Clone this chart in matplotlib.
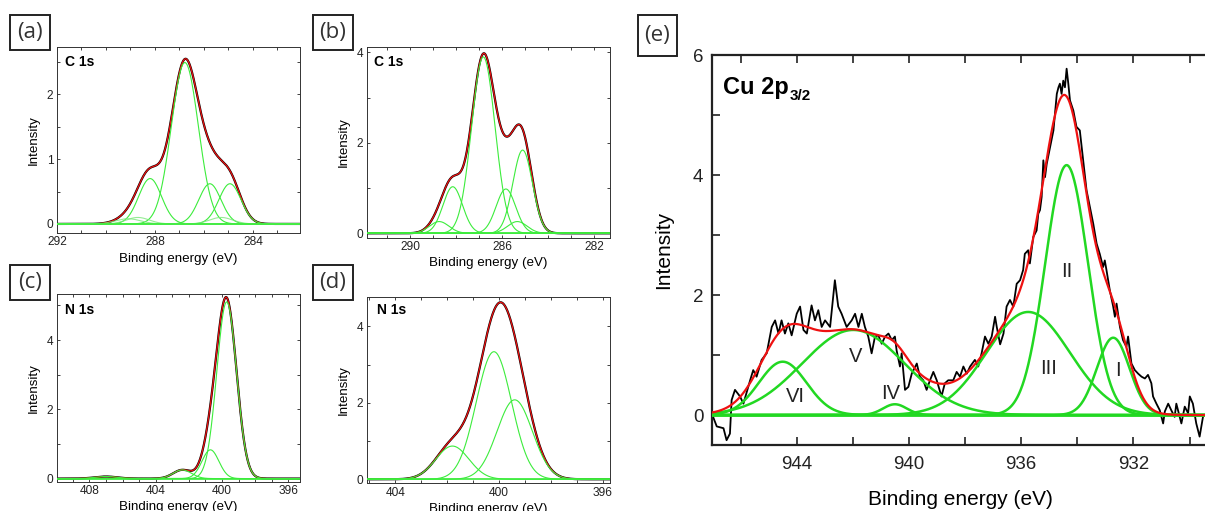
import numpy as np
import matplotlib
matplotlib.use('Agg')
import matplotlib.pyplot as plt
from matplotlib.ticker import MultipleLocator, FuncFormatter
from matplotlib.patches import Rectangle

plt.rcParams['font.family'] = ['Liberation Sans', 'DejaVu Sans']

W, H = 1205, 511

# ---------------- data ----------------
# Fitted components: centre (eV), height, FWHM (eV)
a_centers = [286.78, 288.20, 285.76, 284.94, 289.10, 288.70, 285.30]
a_heights = [2.49, 0.70, 0.62, 0.62, 0.08, 0.10, 0.10]
a_fwhm = [1.30, 1.10, 1.06, 1.06, 1.20, 1.10, 1.10]
a_faint = [False, False, False, False, True, True, True]

b_centers = [286.81, 288.14, 285.83, 285.10, 288.73, 285.33]
b_heights = [3.90, 1.03, 0.98, 1.84, 0.26, 0.26]
b_fwhm = [1.20, 1.00, 1.00, 1.00, 1.00, 1.00]

c_centers = [399.72, 400.70, 402.40, 407.00]
c_heights = [5.10, 0.83, 0.25, 0.06]
c_fwhm = [1.40, 1.20, 1.30, 1.60]

d_centers = [400.20, 399.40, 401.80]
d_heights = [3.34, 2.08, 0.87]
d_fwhm = [1.60, 1.60, 1.50]

e_centers = [932.72, 934.38, 935.75, 940.50, 941.98, 944.50]
e_heights = [1.29, 4.17, 1.72, 0.18, 1.42, 0.89]
e_fwhm = [1.37, 1.80, 3.50, 1.00, 4.30, 2.00]
e_names = ['I', 'II', 'III', 'IV', 'V', 'VI']

# Cu 2p3/2 measured spectrum
e_energy = [947.03, 946.85, 946.61, 946.50, 946.38, 946.32, 946.20, 946.02, 945.90, 945.66,
            945.55, 945.43, 945.25, 945.07, 944.89, 944.77, 944.65, 944.54, 944.42, 944.30,
            944.18, 944.00, 943.88, 943.76, 943.64, 943.47, 943.35, 943.23, 943.11, 942.99,
            942.81, 942.64, 942.52, 942.40, 942.22, 942.04, 941.92, 941.80, 941.68, 941.57,
            941.45, 941.33, 941.21, 941.09, 940.97, 940.85, 940.73, 940.61, 940.50, 940.44,
            940.32, 940.26, 940.14, 940.02, 939.90, 939.72, 939.61, 939.49, 939.37, 939.25,
            939.13, 939.01, 938.84, 938.72, 938.60, 938.42, 938.30, 938.18, 938.06, 937.94,
            937.82, 937.65, 937.53, 937.41, 937.29, 937.17, 937.05, 936.93, 936.87, 936.75,
            936.63, 936.52, 936.40, 936.28, 936.16, 936.04, 935.93, 935.87, 935.75, 935.69,
            935.57, 935.45, 935.39, 935.33, 935.27, 935.21, 935.15, 935.09, 934.97, 934.85,
            934.73, 934.67, 934.62, 934.56, 934.50, 934.44, 934.38, 934.32, 934.26, 934.14,
            934.03, 933.91, 933.79, 933.67, 933.55, 933.43, 933.31, 933.20, 933.08, 933.02,
            932.96, 932.84, 932.72, 932.66, 932.60, 932.48, 932.37, 932.25, 932.19, 932.07,
            931.95, 931.83, 931.71, 931.59, 931.48, 931.36, 931.30, 931.18, 931.06, 930.94,
            930.88, 930.76, 930.65, 930.53, 930.47, 930.35, 930.29, 930.17, 930.05, 929.99,
            929.88, 929.76, 929.64, 929.52]
e_intensity = [0.03, -0.19, -0.22, -0.42, -0.31, 0.25, 0.42, 0.31, 0.19, 0.58,
               0.75, 0.64, 0.92, 1.03, 1.47, 1.58, 1.36, 1.58, 1.36, 1.53,
               1.33, 1.69, 1.81, 1.42, 1.36, 1.83, 1.58, 1.75, 1.47, 1.58,
               1.47, 2.25, 1.81, 1.69, 1.47, 1.58, 1.69, 1.47, 1.69, 1.47,
               1.31, 1.03, 1.31, 1.33, 1.19, 1.31, 1.36, 1.25, 1.31, 1.08,
               0.81, 1.03, 0.42, 0.47, 0.69, 0.86, 0.64, 0.58, 0.42, 0.58,
               0.72, 0.58, 0.31, 0.53, 0.58, 0.58, 0.72, 0.64, 0.81, 0.69,
               0.81, 0.92, 0.81, 1.03, 1.31, 1.19, 1.31, 1.64, 1.47, 1.18,
               1.36, 1.81, 1.92, 1.81, 2.19, 2.25, 2.42, 2.69, 2.75, 2.53,
               2.97, 3.08, 3.36, 3.42, 3.64, 4.25, 3.97, 4.19, 4.47, 4.75,
               5.36, 5.47, 5.53, 5.36, 5.58, 5.47, 5.78, 5.53, 5.25, 5.08,
               4.81, 4.75, 4.25, 3.75, 3.47, 3.19, 2.86, 2.69, 2.47, 2.58,
               2.42, 2.08, 1.81, 1.64, 1.86, 1.47, 1.25, 1.14, 1.31, 0.86,
               0.75, 0.69, 0.64, 0.61, 0.67, 0.53, 0.31, 0.19, 0.08, -0.14,
               0.06, 0.19, 0.08, -0.03, 0.19, -0.03, -0.14, 0.14, 0.03, 0.31,
               0.19, -0.14, -0.36, -0.03]

# tick labels
a_xlabels, a_ylabels = [292, 288, 284], [0, 1, 2]
b_xlabels, b_ylabels = [290, 286, 282], [0, 2, 4]
c_xlabels, c_ylabels = [408, 404, 400, 396], [0, 2, 4]
d_xlabels, d_ylabels = [404, 400, 396], [0, 2, 4]
e_xlabels, e_ylabels = [944, 940, 936, 932], [0, 2, 4, 6]

# ---------------- helpers ----------------
GREEN_S = '#3cec3c'
GREEN_E = '#22d822'
RED = '#ee1111'


def gauss(x, c, h, w):
    return h * np.exp(-4.0 * np.log(2.0) * (x - c) ** 2 / w ** 2)


def px_axes(fig, l, t, r, b):
    return fig.add_axes([l / W, 1 - b / H, (r - l) / W, (b - t) / H])


def only(labels):
    def f(v, p):
        for lab in labels:
            if abs(v - lab) < 1e-6:
                return f'{lab:g}'
        return ''
    return FuncFormatter(f)


def box_label(fig, text, l, t, r, b, size=16):
    fig.add_artist(Rectangle((l / W, 1 - b / H), (r - l) / W, (b - t) / H,
                             transform=fig.transFigure, fill=False,
                             ec='#222222', lw=1.4))
    fig.text((l + r) / 2 / W, 1 - (t + b) / 2 / H, text, ha='center', va='center',
             fontsize=size, family=['Open Sans', 'DejaVu Sans'], color='#333333')


def small_panel(fig, rect, xlim, ylim, centers, heights, fwhm, xlabels, ylabels,
                ystep, title, faint=None, title_xy=(0.033, 0.92)):
    ax = px_axes(fig, *rect)
    x = np.linspace(xlim[0], xlim[1], 800)
    total = np.zeros_like(x)
    for c, h, w in zip(centers, heights, fwhm):
        total += gauss(x, c, h, w)
    ax.plot(x, total, color='black', lw=1.6, zorder=2)
    ax.plot(x, total, color=RED, lw=0.9, zorder=3)
    for i, (c, h, w) in enumerate(zip(centers, heights, fwhm)):
        col = GREEN_S
        alpha = 1.0
        if faint is not None and faint[i]:
            col = '#7be87b'
            alpha = 0.8
        ax.plot(x, gauss(x, c, h, w), color=col, lw=0.8, alpha=alpha, zorder=4)
    ax.axhline(0, color=GREEN_S, lw=1.2, zorder=4)
    ax.set_xlim(*xlim)
    ax.set_ylim(*ylim)
    ax.xaxis.set_major_locator(MultipleLocator(1))
    ax.xaxis.set_major_formatter(only(xlabels))
    ax.yaxis.set_major_locator(MultipleLocator(ystep))
    ax.yaxis.set_major_formatter(only(ylabels))
    ax.tick_params(direction='in', top=True, right=True, length=2.5, width=0.6,
                   labelsize=8.6, pad=2.5, colors='#222222')
    for s in ax.spines.values():
        s.set_linewidth(0.7)
        s.set_color('#333333')
    ax.set_xlabel('Binding energy (eV)', fontsize=9.6, labelpad=3)
    ax.set_ylabel('Intensity', fontsize=9.6, labelpad=5)
    ax.text(title_xy[0], title_xy[1], title, transform=ax.transAxes, fontsize=10,
            fontweight='bold', ha='left', va='center')
    return ax


fig = plt.figure(figsize=(W / 100, H / 100), dpi=100)

small_panel(fig, (57, 47, 300, 233), (292.0, 282.08), (-0.14, 2.73),
            a_centers, a_heights, a_fwhm, a_xlabels, a_ylabels, 0.5, 'C 1s',
            faint=a_faint, title_xy=(0.033, 0.92))
small_panel(fig, (367, 47, 610, 237.7), (291.87, 281.3), (-0.097, 4.12),
            b_centers, b_heights, b_fwhm, b_xlabels, b_ylabels, 1, 'C 1s',
            title_xy=(0.029, 0.92))
small_panel(fig, (57, 294.3, 300, 481.7), (409.95, 395.3), (-0.09, 5.32),
            c_centers, c_heights, c_fwhm, c_xlabels, c_ylabels, 1, 'N 1s',
            title_xy=(0.033, 0.916))
small_panel(fig, (366.7, 296.7, 610, 483.3), (405.1, 395.73), (-0.105, 4.78),
            d_centers, d_heights, d_fwhm, d_xlabels, d_ylabels, 1, 'N 1s',
            title_xy=(0.042, 0.93))

# ---------------- panel (e) ----------------
axe = px_axes(fig, 711.7, 55.5, 1210, 445)
xe = np.linspace(947.03, 929.27, 1000)
tot = np.zeros_like(xe)
for c, h, w in zip(e_centers, e_heights, e_fwhm):
    tot += gauss(xe, c, h, w)
axe.plot(e_energy, e_intensity, color='black', lw=1.3, zorder=2)
for c, h, w in zip(e_centers, e_heights, e_fwhm):
    axe.plot(xe, gauss(xe, c, h, w), color=GREEN_E, lw=1.8, zorder=3)
axe.axhline(0, color=GREEN_E, lw=1.8, zorder=3)
axe.plot(xe, tot, color=RED, lw=1.6, zorder=4)

e_label_x = [932.56, 934.39, 935.04, 940.64, 941.90, 944.06]
e_label_y = [0.75, 2.40, 0.78, 0.36, 0.98, 0.31]
for name, lx, ly in zip(e_names, e_label_x, e_label_y):
    axe.text(lx, ly, name, fontsize=14.5, ha='center', va='center', color='#222222',
             zorder=5)

axe.set_xlim(947.03, 929.27)
axe.set_ylim(-0.5, 6.0)
axe.xaxis.set_major_locator(MultipleLocator(2))
axe.xaxis.set_major_formatter(only(e_xlabels))
axe.yaxis.set_major_locator(MultipleLocator(1))
axe.yaxis.set_major_formatter(only(e_ylabels))
axe.tick_params(direction='in', top=True, right=False, length=6, width=1.2,
                labelsize=13.5, colors='#222222')
axe.tick_params(axis='x', pad=8)
axe.tick_params(axis='y', pad=6)
for s in axe.spines.values():
    s.set_linewidth(1.6)
    s.set_color('#222222')
axe.set_xlabel('Binding energy (eV)', fontsize=15, labelpad=12)
axe.set_ylabel('Intensity', fontsize=15, labelpad=14)
t = axe.text(0.0223, 0.902, 'Cu 2p', transform=axe.transAxes, fontsize=17,
             fontweight='bold', ha='left', va='baseline')
axe.annotate('3/2', xy=(1.0, 0.0), xycoords=t, xytext=(1, -3),
             textcoords='offset points', fontsize=11, fontweight='bold',
             ha='left', va='bottom')

# panel letters
box_label(fig, '(a)', 10, 15, 50, 50)
box_label(fig, '(b)', 313, 15, 353, 50)
box_label(fig, '(c)', 10, 265, 50, 300)
box_label(fig, '(d)', 313, 265, 353, 300)
box_label(fig, '(e)', 638, 15, 677, 56)

fig.savefig('out.png', dpi=100)
